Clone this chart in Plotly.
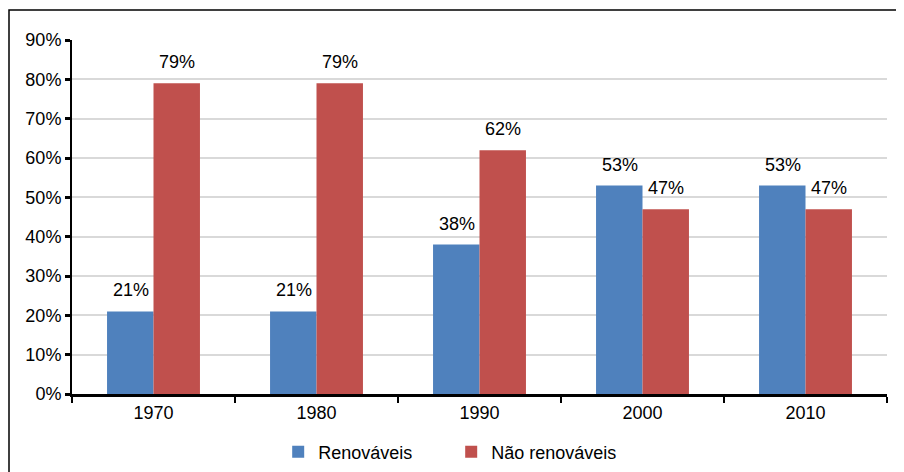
import plotly.graph_objects as go

categories = ["1970", "1980", "1990", "2000", "2010"]
renovaveis = [21, 21, 38, 53, 53]
nao_renovaveis = [79, 79, 62, 47, 47]
y_ticks = [0, 10, 20, 30, 40, 50, 60, 70, 80, 90]
y_tick_labels = [f"{v}%" for v in y_ticks]

font = dict(family="Liberation Sans, Arial, sans-serif", size=18, color="black")

fig = go.Figure()
fig.add_trace(go.Bar(
    x=categories, y=renovaveis, name="Renováveis",
    marker=dict(color="#4F81BD", line=dict(width=0)),
))
fig.add_trace(go.Bar(
    x=categories, y=nao_renovaveis, name="Não renováveis",
    marker=dict(color="#C0504D", line=dict(width=0)),
))

annotations = []
for series, shift in ((renovaveis, -23), (nao_renovaveis, 23)):
    for i, v in enumerate(series):
        annotations.append(dict(
            x=i, y=v, xref="x", yref="y", text=f"{v}%", showarrow=False,
            xshift=shift, yshift=9, yanchor="bottom", font=font,
        ))

fig.update_layout(
    width=904, height=472,
    margin=dict(l=64, r=25, t=32, b=86, autoexpand=False),
    paper_bgcolor="white", plot_bgcolor="white",
    barmode="group", bargap=0.43, bargroupgap=0,
    font=font,
    showlegend=True,
    legend=dict(orientation="h", x=0.253, xanchor="left", y=-0.164, yanchor="middle",
                font=font, itemwidth=30, traceorder="normal",
                entrywidth=128, entrywidthmode="pixels"),
    xaxis=dict(
        type="category", showline=True, linecolor="black", linewidth=3,
        ticks="outside", tickson="boundaries", ticklen=6, tickwidth=2, tickcolor="black",
        showgrid=False, tickfont=font, automargin=False,
    ),
    yaxis=dict(
        range=[0, 90], tickvals=y_ticks, ticktext=y_tick_labels,
        showline=True, linecolor="black", linewidth=2,
        ticks="outside", ticklen=5, tickwidth=3, tickcolor="black",
        showgrid=True, gridcolor="#D9D9D9", gridwidth=1.5, zeroline=False,
        tickfont=font, automargin=False,
    ),
    annotations=annotations,
    shapes=[dict(type="rect", xref="paper", yref="paper",
                 x0=-0.0773, x1=1.1, y0=-0.3, y1=1.0847,
                 line=dict(color="black", width=1.5), fillcolor="rgba(0,0,0,0)",
                 layer="below")],
)

fig.write_html("out.html")
